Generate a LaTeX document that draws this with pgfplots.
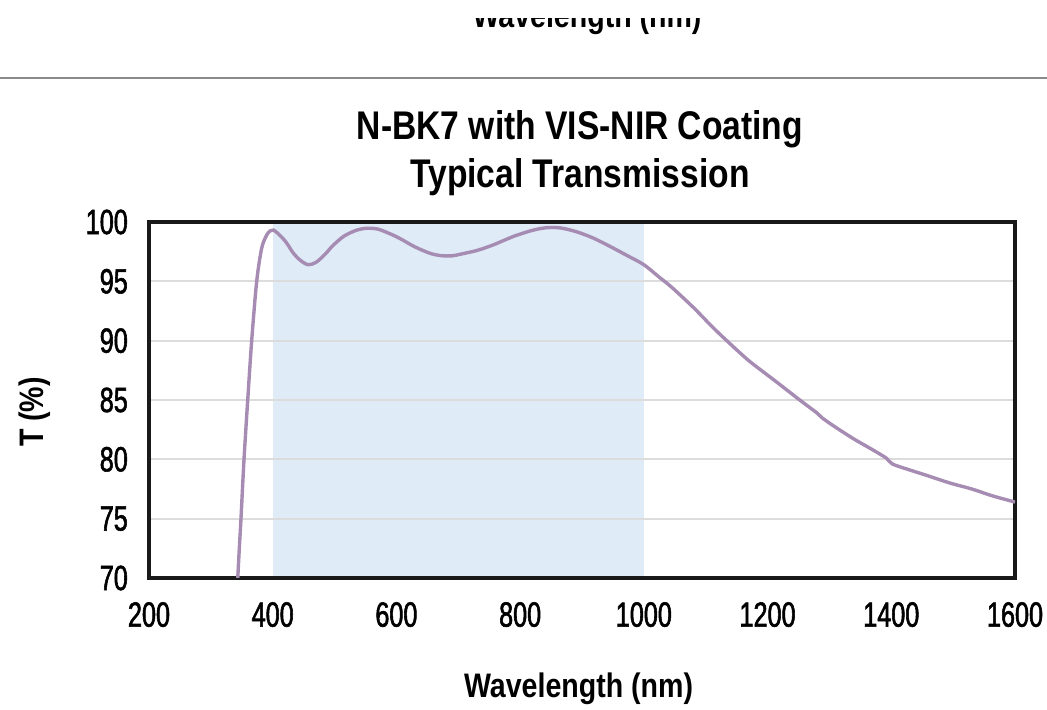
\documentclass[border=0pt]{standalone}
\usepackage{pgfplots}
\pgfplotsset{compat=1.18}
\usepackage{fontspec}
\setmainfont{Liberation Sans}
\newfontfamily\boldf{Liberation Sans}[FakeStretch=0.84]
\newfontfamily\tickf{Liberation Sans}[FakeStretch=0.72, FakeBold=1.6]
\definecolor{curve}{HTML}{A68BB3}
\definecolor{shade}{HTML}{DFEBF6}
\definecolor{gridc}{HTML}{DCDCDC}
\definecolor{sepline}{HTML}{8A8A8A}
\pgfplotstableread{
x y
343.5 70
346 72.5
348.7 75
353.6 80
359.6 85
366 90
374.1 95
382.2 97.8
390.3 98.9
396 99.25
401 99.32
407 99.1
415 98.7
423 98.2
433 97.4
444 96.8
457 96.4
470 96.6
485 97.3
497 98.0
515 98.8
535 99.3
552 99.47
570 99.4
590 99.0
606 98.6
630 97.9
655 97.35
673 97.16
690 97.15
703 97.28
730 97.6
756 98.06
790 98.8
820 99.3
843 99.52
865 99.5
891 99.18
918 98.65
945 97.95
972 97.2
1000 96.4
1026 95.3
1045 94.5
1080 92.8
1110 91.2
1134 90.0
1170 88.3
1210 86.7
1252 85.0
1280 83.9
1288 83.5
1310 82.7
1340 81.7
1370 80.8
1392 80.1
1402 79.6
1430 79.1
1460 78.6
1495 78.0
1530 77.5
1565 76.9
1600 76.4
}\curvedata
\begin{document}
\begin{tikzpicture}
\begin{axis}[
  at={(149bp,132bp)}, anchor=south west,
  scale only axis, width=866bp, height=356bp,
  xmin=200, xmax=1600, ymin=70, ymax=100,
  xtick={200,400,...,1600}, ytick={70,75,...,100},
  ymajorgrids,
  major grid style={gridc, line width=2bp},
  major tick length=0pt,
  axis line style={line width=3.5bp, black!90},
  set layers,
  /pgf/number format/assume math mode=true,
  /pgf/number format/set thousands separator={},
  ticklabel style={font=\tickf\fontsize{35bp}{35bp}\selectfont, inner sep=0pt},
  yticklabel style={anchor=east, xshift=-21bp},
  xticklabel style={anchor=north, yshift=-24bp},
  xlabel={Wavelength (nm)},
  ylabel={T (\%)},
  label style={font=\boldf\bfseries\fontsize{34bp}{34bp}\selectfont, inner sep=0pt},
  xlabel style={at={(axis description cs:0.496,0)}, anchor=base, yshift=-119bp},
  ylabel style={at={(axis description cs:-0.1316,0.466)}, anchor=center},
]
\addplot[on layer=axis background, fill=shade, draw=none] coordinates {(400,70) (400,100) (1000,100) (1000,70)} --cycle;
\addplot[curve, line width=3.4bp, smooth, tension=0.5] table[x=x,y=y] {\curvedata};
\end{axis}
\node[anchor=base, inner sep=0] at (587bp,682bp) {\boldf\bfseries\fontsize{34bp}{34bp}\selectfont Wavelength (nm)};
\fill[white] (0bp,692bp) rectangle (1047bp,712bp);
\draw[line width=2bp, sepline] (0bp,632bp) -- (1047bp,632bp);
\node[anchor=base, inner sep=0] at (580bp,570bp) {\boldf\bfseries\fontsize{40bp}{40bp}\selectfont N-BK7 with VIS-NIR Coating};
\node[anchor=base, inner sep=0] at (580bp,522bp) {\boldf\bfseries\fontsize{40bp}{40bp}\selectfont Typical Transmission};
\pgfresetboundingbox
\path[use as bounding box] (0bp,0bp) rectangle (1047bp,710bp);
\end{tikzpicture}
\end{document}
